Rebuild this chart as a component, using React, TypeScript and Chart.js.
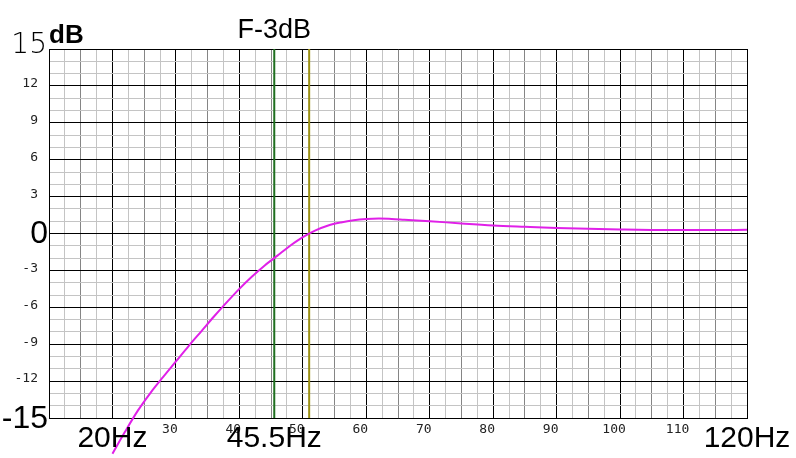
import React, { useEffect, useRef } from "react";
import { Chart, registerables } from "chart.js";

Chart.register(...registerables);

// ---- data ----
const freqHz = [20, 22, 24, 26, 28, 30, 32, 34, 36, 38, 40, 42, 44, 46, 48, 50, 52, 54, 56, 58, 60, 62, 64, 66, 70, 75, 80, 85, 90, 95, 100, 105, 110, 115, 120];
const responseDb = [-17.9, -16.1, -14.4, -12.95, -11.65, -10.4, -9.15, -7.95, -6.75, -5.6, -4.5, -3.5, -2.6, -1.8, -1.0, -0.3, 0.25, 0.65, 0.9, 1.08, 1.18, 1.22, 1.18, 1.12, 1.0, 0.82, 0.66, 0.55, 0.45, 0.38, 0.33, 0.29, 0.28, 0.28, 0.3];

const f3dbHz = 45.5;
const f0dbHz = 51;

const xMin = 10;
const xMax = 120;
const yMin = -15;
const yMax = 15;

const xGridValues = Array.from({ length: (xMax - xMin) / 2.5 + 1 }, (_, i) => xMin + i * 2.5);
const yGridValues = Array.from({ length: yMax - yMin + 1 }, (_, i) => yMin + i);

const xSmallLabels = [30, 40, 50, 60, 70, 80, 90, 100, 110];
const ySmallLabels = [12, 9, 6, 3, -3, -6, -9, -12];

const xBigLabels = [
  { value: 20, text: "20Hz" },
  { value: f3dbHz, text: "45.5Hz" },
  { value: 120, text: "120Hz" },
];
const yBigLabels = [
  { value: 0, text: "0" },
  { value: -15, text: "-15" },
];
const yTopLabel = { value: 15, text: "15" };
const unitLabel = "dB";
const f3dbLabel = "F-3dB";

const bigLabelsPlugin = {
  id: "bigLabels",
  afterDraw(chart: any) {
    const { ctx, scales } = chart;
    const x = scales.x;
    const y = scales.y;
    const left = chart.chartArea.left;
    ctx.save();
    ctx.fillStyle = "#000";
    // x big labels
    ctx.font = "30px 'Liberation Sans', Arial, sans-serif";
    ctx.textAlign = "center";
    ctx.textBaseline = "alphabetic";
    for (const l of xBigLabels) {
      ctx.fillText(l.text, x.getPixelForValue(l.value), chart.chartArea.bottom + 29);
    }
    // F-3dB label
    ctx.font = "27px 'Liberation Sans', Arial, sans-serif";
    ctx.fillText(f3dbLabel, x.getPixelForValue(f3dbHz), chart.chartArea.top - 11);
    // y big labels
    ctx.font = "32px 'Liberation Sans', Arial, sans-serif";
    ctx.textAlign = "right";
    ctx.textBaseline = "middle";
    for (const l of yBigLabels) {
      ctx.fillText(l.text, left - 1, y.getPixelForValue(l.value) + 1);
    }
    // top thin 15
    ctx.font = "200 28px 'DejaVu Sans', sans-serif";
    ctx.textBaseline = "alphabetic";
    ctx.fillText(yTopLabel.text, left - 2, y.getPixelForValue(yTopLabel.value) + 4);
    // dB unit
    ctx.font = "bold 26px 'Liberation Sans', Arial, sans-serif";
    ctx.textAlign = "left";
    ctx.fillText(unitLabel, left, chart.chartArea.top - 6);
    ctx.restore();
  },
};

export default function App() {
  const canvasRef = useRef<HTMLCanvasElement | null>(null);

  useEffect(() => {
    const canvas = canvasRef.current;
    if (!canvas) return;
    const chart = new Chart(canvas, {
      type: "line",
      data: {
        datasets: [
          {
            label: "response",
            data: freqHz.map((f, i) => ({ x: f, y: responseDb[i] })),
            borderColor: "#e020e8",
            borderWidth: 2,
            pointRadius: 0,
            cubicInterpolationMode: "monotone",
            clip: false,
          } as any,
          {
            label: "F-3dB",
            data: [
              { x: f3dbHz, y: yMin },
              { x: f3dbHz, y: yMax },
            ],
            borderColor: "#1f6f1f",
            borderWidth: 2,
            pointRadius: 0,
          },
          {
            label: "F0dB",
            data: [
              { x: f0dbHz, y: yMin },
              { x: f0dbHz, y: yMax },
            ],
            borderColor: "#9a9012",
            borderWidth: 2,
            pointRadius: 0,
          },
        ],
      },
      options: {
        animation: false,
        responsive: false,
        layout: { padding: { top: 49, right: 49, left: 0, bottom: 0 } },
        plugins: { legend: { display: false }, tooltip: { enabled: false } },
        scales: {
          x: {
            type: "linear",
            min: xMin,
            max: xMax,
            afterBuildTicks: (scale: any) => {
              scale.ticks = xGridValues.map((v) => ({ value: v }));
            },
            afterFit: (scale: any) => {
              scale.height = 40;
            },
            grid: {
              drawTicks: false,
              color: (c: any) => {
                const v = c.tick ? c.tick.value : 0;
                if (v % 10 === 0) return "#000";
                if (v % 5 === 0) return "#858585";
                return "#c4c4c4";
              },
            },
            border: { color: "#000" },
            ticks: {
              autoSkip: false,
              maxRotation: 0,
              padding: 4,
              labelOffset: -6,
              color: "#222",
              font: { family: "'DejaVu Sans Mono', monospace", size: 13 },
              callback: (v: any) => (xSmallLabels.includes(Number(v)) ? String(v) : ""),
            },
          },
          y: {
            type: "linear",
            min: yMin,
            max: yMax,
            afterBuildTicks: (scale: any) => {
              scale.ticks = yGridValues.map((v) => ({ value: v }));
            },
            afterFit: (scale: any) => {
              scale.width = 49;
            },
            grid: {
              drawTicks: false,
              color: (c: any) => {
                const v = c.tick ? c.tick.value : 0;
                if (v % 3 === 0) return "#000";
                return "#c4c4c4";
              },
            },
            border: { color: "#000" },
            ticks: {
              autoSkip: false,
              padding: 11,
              labelOffset: -2,
              color: "#222",
              font: { family: "'DejaVu Sans Mono', monospace", size: 13 },
              callback: (v: any) => (ySmallLabels.includes(Number(v)) ? String(v) : ""),
            },
          },
        },
      },
      plugins: [bigLabelsPlugin],
    });
    return () => chart.destroy();
  }, []);

  return (
    <div style={{ position: "absolute", left: 0, top: 0, width: 796, height: 458, background: "#fff" }}>
      <canvas ref={canvasRef} width={796} height={458} />
    </div>
  );
}
